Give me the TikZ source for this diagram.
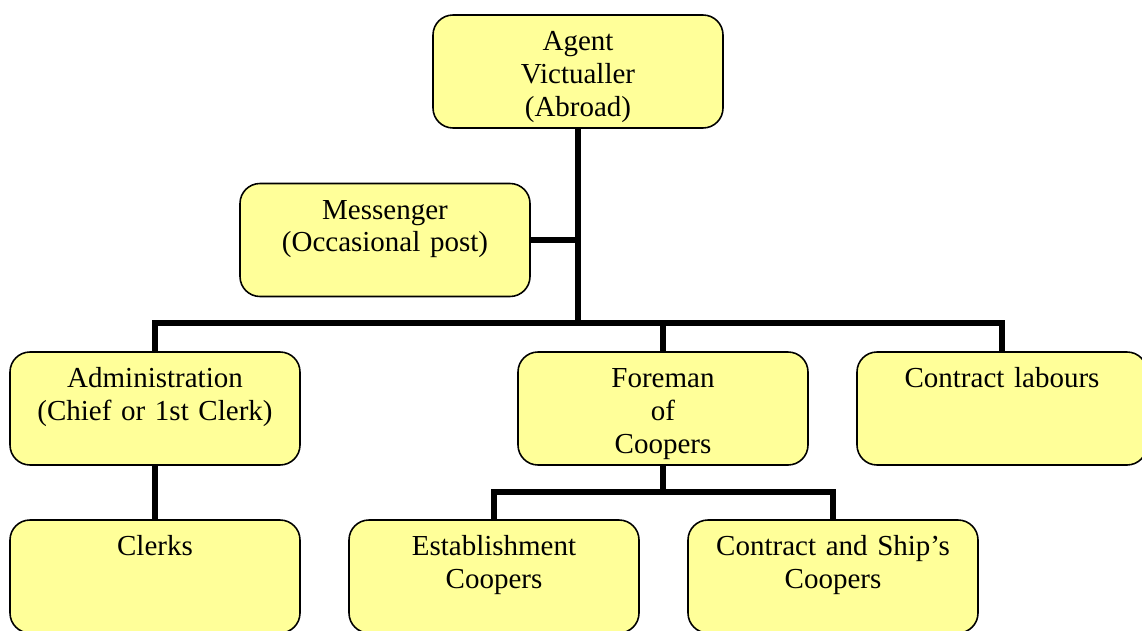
\documentclass[tikz,border=0pt]{standalone}
\usepackage{fontspec}
\setmainfont{Liberation Serif}
\usepackage{xcolor}
\usepackage{tikz}

\definecolor{boxyellow}{HTML}{FFFF99}

\begin{document}
\begin{tikzpicture}
        % Define styles
        \tikzset{
            post/.style={rectangle, rounded corners=0.4cm, draw, line width=0.9pt, fill=boxyellow,
                         text width=5.8cm, align=center, inner xsep=0pt, inner ysep=0pt,
                         text height=0.71cm, text depth=1.55cm,
                         font=\fontsize{16.5}{18.7}\selectfont},
            link/.style={line width=3.4pt}
        }

        \clip (0,0) rectangle (22.84,-12.62);

        % Nodes
        \node[post] (agent_node) at (11.56,-1.43) {Agent\\Victualler\\(Abroad)};
        \node[post] (messenger_node) at (7.70,-4.80) {Messenger\\(Occasional post)};

        \node[post] (admin_node) at (3.10,-8.17) {Administration\\(Chief or 1st Clerk)};
        \node[post] (foreman_node) at (13.26,-8.17) {Foreman\\of\\Coopers};
        \node[post] (labours_node) at (20.04,-8.17) {Contract labours};

        \node[post] (clerks_node) at (3.10,-11.53) {Clerks};
        \node[post] (establishment_node) at (9.88,-11.53) {Establishment\\Coopers};
        \node[post] (ship_node) at (16.66,-11.53) {Contract and Ship’s\\Coopers};

        \coordinate (bus) at (11.56,-6.46);
        \coordinate (fork) at (13.26,-9.84);

        % Lines
        \draw[link] (agent_node.south) -- (bus);
        \draw[link] (messenger_node.east) -- (messenger_node.east -| agent_node.south);
        \draw[link] (admin_node.north) |- (bus) -| (labours_node.north);
        \draw[link] (bus) -| (foreman_node.north);
        \draw[link] (admin_node.south) -- (clerks_node.north);
        \draw[link] (foreman_node.south) -- (fork);
        \draw[link] (establishment_node.north) |- (fork) -| (ship_node.north);
    \end{tikzpicture}
\end{document}
